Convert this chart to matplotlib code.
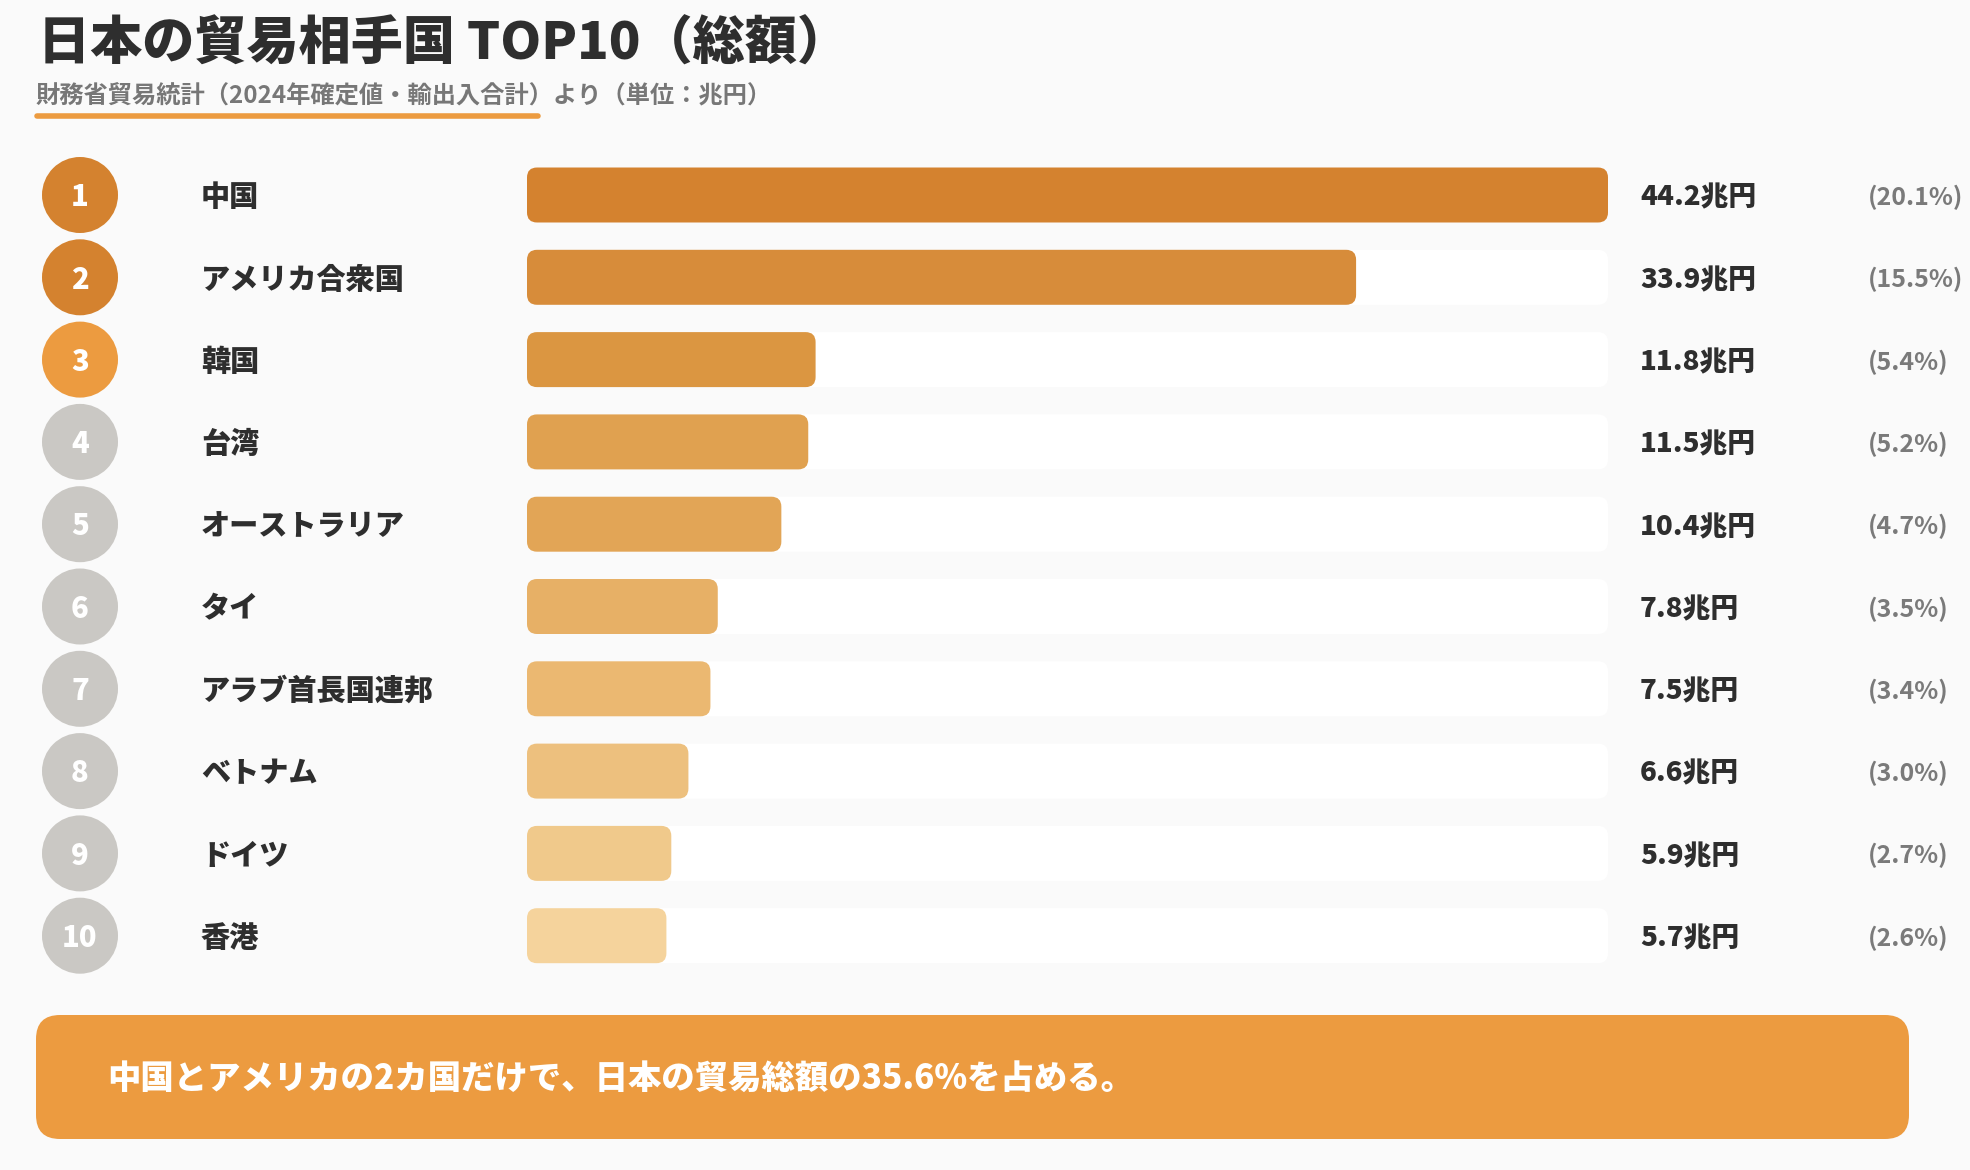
import matplotlib.pyplot as plt
from matplotlib.patches import FancyBboxPatch, Circle

plt.rcParams['font.family'] = ['Noto Sans CJK JP', 'DejaVu Sans']

# data
countries = ['中国', 'アメリカ合衆国', '韓国', '台湾', 'オーストラリア',
             'タイ', 'アラブ首長国連邦', 'ベトナム', 'ドイツ', '香港']
values = [44.2, 33.9, 11.8, 11.5, 10.4, 7.8, 7.5, 6.6, 5.9, 5.7]
shares = [20.1, 15.5, 5.4, 5.2, 4.7, 3.5, 3.4, 3.0, 2.7, 2.6]
ranks = list(range(1, 11))

bar_colors = ['#D4822F', '#D78C3A', '#DB9641', '#E0A150', '#E2A556',
              '#E7B066', '#EBB871', '#EDC07E', '#F0C98B', '#F5D39C']
circle_colors = ['#D4822F', '#D4822F', '#EC9B40'] + ['#CAC8C4'] * 7

W, H = 1970, 1170
fig = plt.figure(figsize=(W / 100, H / 100), dpi=100)
fig.patch.set_facecolor('#FAFAFA')

# full-figure pixel axes for text and decorations
ax = fig.add_axes([0, 0, 1, 1])
ax.set_xlim(0, W)
ax.set_ylim(H, 0)
ax.axis('off')

ax.text(38, 44, '日本の貿易相手国 TOP10（総額）', fontsize=37.5, fontweight='heavy',
        color='#2E2E2E', va='center', ha='left')
ax.text(36, 95, '財務省貿易統計（2024年確定値・輸出入合計）より（単位：兆円）',
        fontsize=17.5, fontweight='bold', color='#777777', va='center', ha='left')
ax.plot([37, 538], [116, 116], color='#EC9B40', lw=4, solid_capstyle='round')

row0, step = 195, 82.3
for i, (r, name, v, s) in enumerate(zip(ranks, countries, values, shares)):
    y = row0 + i * step
    ty = y + 2.5
    ax.add_patch(Circle((80, y), 38, color=circle_colors[i], lw=0))
    ax.text(80, ty, str(r), fontsize=21, fontweight='heavy', color='white',
            ha='center', va='center')
    ax.text(201, ty, name, fontsize=21, fontweight='heavy', color='#2E2E2E',
            ha='left', va='center')
    ax.text(1640, ty, f'{v}兆円', fontsize=20, fontweight='heavy', color='#2E2E2E',
            ha='left', va='center')
    ax.text(1868, ty, f'({s}%)', fontsize=18, fontweight='bold', color='#7A7A7A',
            ha='left', va='center')

# bottom note box
ax.add_patch(FancyBboxPatch((36, 1015), 1873, 124,
                            boxstyle='round,pad=0,rounding_size=24',
                            fc='#EC9B40', ec='none'))
ax.text(107, 1078, '中国とアメリカの2カ国だけで、日本の貿易総額の35.6%を占める。',
        fontsize=24, fontweight='heavy', color='white', ha='left', va='center')

# bar axes: x in 兆円, one unit per row
bx0, bx1 = 527, 1608
by0, by1 = row0 - step / 2, row0 + 9.5 * step
bax = fig.add_axes([bx0 / W, 1 - by1 / H, (bx1 - bx0) / W, (by1 - by0) / H])
vmax = max(values)
bax.set_xlim(0, vmax)
bax.set_ylim(9.5, -0.5)
bax.axis('off')

xu = vmax / (bx1 - bx0)   # x units per pixel
yu = 1 / step             # y units per pixel
asp = yu / xu
bh = 55 * yu
rad = 10 * xu
for i, v in enumerate(values):
    bax.add_patch(FancyBboxPatch((0, i - bh / 2), vmax, bh,
                                 boxstyle=f'round,pad=0,rounding_size={rad}',
                                 mutation_aspect=asp, fc='white', ec='none'))
    bax.add_patch(FancyBboxPatch((0, i - bh / 2), v, bh,
                                 boxstyle=f'round,pad=0,rounding_size={rad}',
                                 mutation_aspect=asp, fc=bar_colors[i], ec='none'))

fig.savefig('out.png', dpi=100, facecolor=fig.get_facecolor())
